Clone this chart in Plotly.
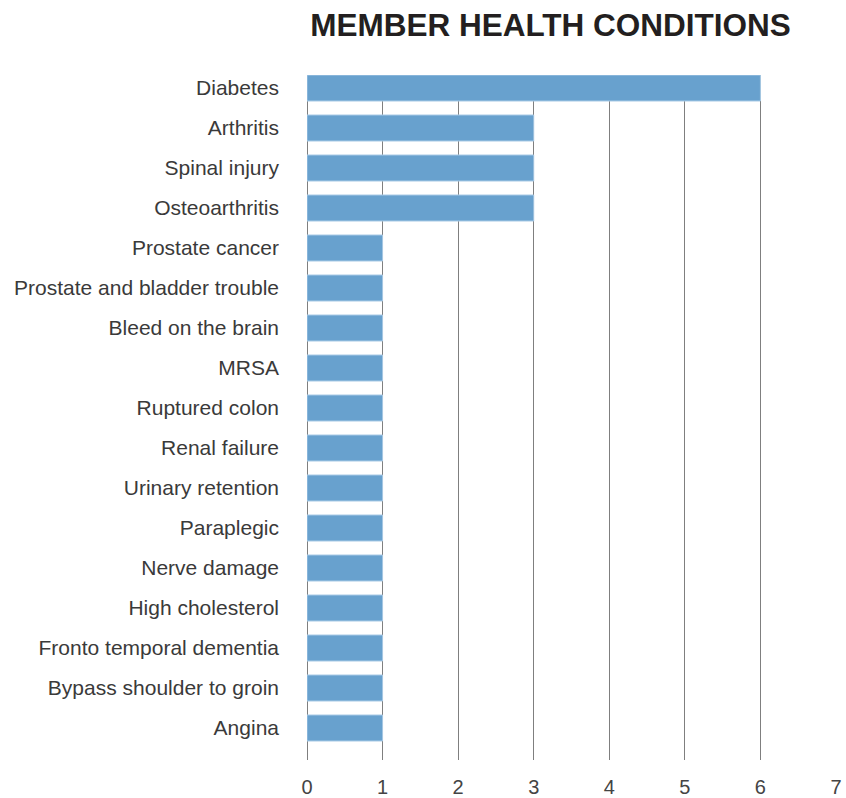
import plotly.graph_objects as go

categories = ["Diabetes", "Arthritis", "Spinal injury", "Osteoarthritis", "Prostate cancer",
              "Prostate and bladder trouble", "Bleed on the brain", "MRSA", "Ruptured colon",
              "Renal failure", "Urinary retention", "Paraplegic", "Nerve damage",
              "High cholesterol", "Fronto temporal dementia", "Bypass shoulder to groin", "Angina"]
values = [6, 3, 3, 3, 1, 1, 1, 1, 1, 1, 1, 1, 1, 1, 1, 1, 1]
x_ticks = [0, 1, 2, 3, 4, 5, 6, 7]

fig = go.Figure(go.Bar(
    x=values, y=categories, orientation="h",
    marker=dict(color="#68A1CE", line=dict(color="#A8CAE6", width=1)),
    width=0.65,
))

fig.update_layout(
    width=846, height=798,
    margin=dict(l=307, r=10, t=75, b=38, autoexpand=False),
    paper_bgcolor="white", plot_bgcolor="white",
    title=dict(text="<b>MEMBER HEALTH CONDITIONS</b>", x=550.5 / 846, xanchor="center",
               y=1 - 25 / 798, yanchor="middle",
               font=dict(family="Liberation Sans", size=31.5, color="#231F20")),
    font=dict(family="Liberation Sans", size=21, color="#3A3A3A"),
    showlegend=False,
    bargap=0.35,
)
fig.update_xaxes(range=[0, 7], tickvals=x_ticks, showgrid=True, gridcolor="#7F7F7F",
                 gridwidth=1, zeroline=True, zerolinecolor="#7F7F7F", zerolinewidth=1,
                 showline=False, ticks="", ticklabelstandoff=13, automargin=False,
                 tickfont=dict(size=20, color="#444444"))
fig.update_yaxes(categoryorder="array", categoryarray=categories,
                 range=[16.8, -0.325], showgrid=False, zeroline=False, showline=False,
                 ticks="", ticklabelstandoff=27, automargin=False,
                 tickfont=dict(size=21, color="#3A3A3A"))

fig.write_html("out.html", config={"displayModeBar": False},
               post_script="document.body.style.margin='0';document.body.style.overflow='hidden';")
